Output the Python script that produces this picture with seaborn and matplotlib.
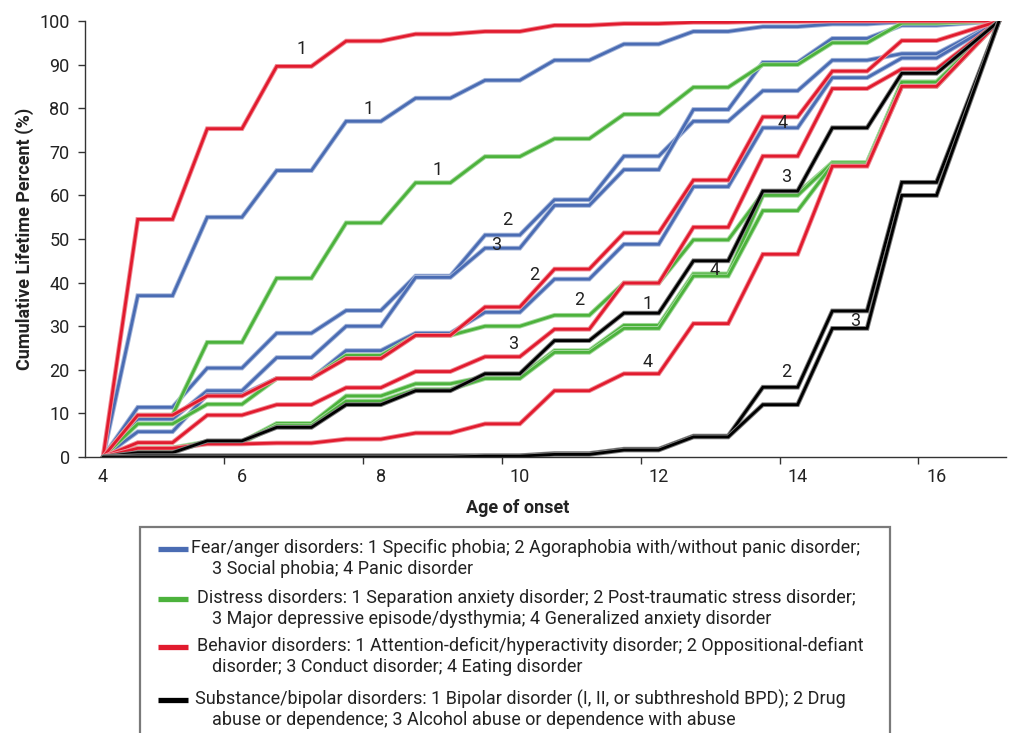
import matplotlib
matplotlib.use("Agg")
import matplotlib.pyplot as plt
import matplotlib.patheffects as pe
from matplotlib.lines import Line2D
from matplotlib.patches import Rectangle
import numpy as np
import pandas as pd
import seaborn as sns

# ages whose cumulative value is held on a flat step (a-0.5 .. a)
ages = list(range(5, 17))

# fear/anger disorders
specific_phobia = [37, 55, 65.7, 77, 82.3, 86.4, 91, 94.7, 97.6, 98.7, 99.3, 99.8]
agoraphobia = [11.4, 20.4, 28.4, 33.6, 41.5, 50.9, 59, 69, 77, 84, 91, 92.5]
social_phobia = [8.7, 15.2, 22.8, 30, 41.2, 47.9, 57.7, 65.9, 79.7, 90.5, 96, 99]
panic = [5.8, 14.3, 18, 24.4, 28.4, 33.2, 40.8, 48.8, 62, 75.5, 87, 91.5]

# distress disorders
separation = [9.6, 26.3, 41, 53.7, 62.9, 68.9, 73, 78.6, 84.8, 90, 95, 99.5]
ptsd = [7.6, 12.1, 18, 23.3, 27.9, 30, 32.5, 39.9, 49.8, 60.5, 67.5, 86]
depression = [2.1, 3.5, 7.7, 14, 16.8, 18.4, 24.4, 30.2, 42, 60, 67.5, 86]
gad = [1.5, 3.3, 7.2, 12.8, 15.5, 18, 24, 29.5, 41.5, 56.5, 67, 85]

# behavior disorders
adhd = [54.5, 75.3, 89.6, 95.4, 97, 97.6, 99, 99.4, 99.7, 99.9, 100, 100]
odd = [9.6, 14, 18, 22.6, 27.9, 34.4, 43.1, 51.4, 63.5, 78, 88.5, 95.5]
conduct = [3.3, 9.6, 12, 15.9, 19.6, 23, 29.3, 39.9, 52.7, 69, 84.5, 89]
eating = [2, 3, 3.2, 4.1, 5.5, 7.6, 15.2, 19.1, 30.6, 46.5, 66.7, 85]

# substance/bipolar disorders
bipolar = [1, 3.7, 6.8, 12, 15.2, 19.1, 26.7, 33, 45, 61, 75.5, 88]
drug = [0.3, 0.3, 0.3, 0.3, 0.3, 0.3, 0.8, 1.8, 4.8, 16, 33.5, 63]
alcohol = [0, 0, 0, 0, 0, 0.2, 0.6, 1.6, 4.6, 12, 29.5, 60]

BLUE = "#4a6cb3"
GREEN = "#4cb23c"
RED = "#e11b2e"
BLACK = "#000000"

lines = [
    ("specific_phobia", specific_phobia, BLUE),
    ("agoraphobia", agoraphobia, BLUE),
    ("social_phobia", social_phobia, BLUE),
    ("panic", panic, BLUE),
    ("separation", separation, GREEN),
    ("ptsd", ptsd, GREEN),
    ("depression", depression, GREEN),
    ("gad", gad, GREEN),
    ("adhd", adhd, RED),
    ("odd", odd, RED),
    ("conduct", conduct, RED),
    ("eating", eating, RED),
    ("bipolar", bipolar, BLACK),
    ("drug", drug, BLACK),
    ("alcohol", alcohol, BLACK),
]

# build long table: rise from a-1 to a-0.5, flat until a, final jump to 100
rows = []
for name, vals, _ in lines:
    rows.append((name, 4.0, 0.0))
    for a, v in zip(ages, vals):
        rows.append((name, a - 0.5, v))
        rows.append((name, float(a), v))
    rows.append((name, 16.9, 100.0))
df = pd.DataFrame(rows, columns=["disorder", "age", "pct"])
palette = {name: c for name, _, c in lines}

# number tags on the curves
tags = [
    ("1", 6.86, 93.5), ("1", 7.82, 79.8), ("1", 8.81, 65.9),
    ("2", 9.82, 54.3), ("3", 9.66, 48.6), ("2", 10.2, 41.7),
    ("2", 10.85, 35.9), ("1", 11.84, 35.2), ("3", 9.9, 26.0),
    ("4", 11.84, 21.7), ("4", 13.78, 76.7), ("3", 13.84, 64.3),
    ("4", 12.8, 42.9), ("2", 13.83, 19.4), ("3", 14.83, 31.3),
]

sns.set_theme(style="white")
plt.rcParams["font.family"] = ["Roboto", "DejaVu Sans"]

fig = plt.figure(figsize=(10.12, 7.33), dpi=100)
ax = fig.add_axes([85 / 1012, 1 - 457 / 733, 921 / 1012, 436 / 733])

sns.lineplot(
    data=df, x="age", y="pct", hue="disorder", palette=palette,
    estimator=None, sort=False, legend=False, linewidth=2.0, ax=ax,
)


def lighten(c, f=0.5):
    r, g, b = matplotlib.colors.to_rgb(c)
    return (r + (1 - r) * f, g + (1 - g) * f, b + (1 - b) * f)


for ln in ax.lines:
    ln.set_solid_joinstyle("miter")
    ln.set_path_effects([pe.Stroke(linewidth=3.4, foreground=lighten(ln.get_color())), pe.Normal()])

for t, x, y in tags:
    ax.text(x, y, t, ha="center", va="center", fontsize=13, color="#222222")

ax.set_xlim(3.74, 17.0)
ax.set_ylim(0, 100)
ax.set_yticks(np.arange(0, 101, 10))
ax.set_xticks(np.arange(4, 17, 2))
ax.set_xticks(np.arange(5.74, 16, 2), minor=True)
ax.tick_params(axis="x", which="major", length=0, pad=8, labelsize=13, colors="#222222")
ax.tick_params(axis="x", which="minor", bottom=True, length=5, width=1, direction="out", color="#333333")
ax.tick_params(axis="y", which="major", left=True, length=5, width=1, direction="out", pad=6,
               labelsize=13, colors="#222222")
ax.tick_params(axis="y", color="#333333")
for s in ["top", "right"]:
    ax.spines[s].set_visible(False)
for s in ["left", "bottom"]:
    ax.spines[s].set_color("#333333")
    ax.spines[s].set_linewidth(1.0)

ax.set_xlabel("Age of onset", fontsize=13, fontweight="bold", color="#222222", va="center")
ax.set_ylabel("Cumulative Lifetime Percent (%)", fontsize=13, fontweight="bold", color="#222222", va="center")
ax.xaxis.set_label_coords((518 - 85) / 921, (457 - 508) / 436)
ax.yaxis.set_label_coords((25 - 85) / 921, 0.5)

# legend box drawn below the axes
W, H = 1012, 733
fig.add_artist(Rectangle((140 / W, -0.02), (890 - 140) / W, 1 - 527 / H + 0.02,
                         transform=fig.transFigure, fill=False, ec="#7a7a7a", lw=1.6))

legend_rows = [
    (BLUE, 548, "Fear/anger disorders: 1 Specific phobia; 2 Agoraphobia with/without panic disorder;",
     "3 Social phobia; 4 Panic disorder", 191),
    (GREEN, 598, "Distress disorders: 1 Separation anxiety disorder; 2 Post-traumatic stress disorder;",
     "3 Major depressive episode/dysthymia; 4 Generalized anxiety disorder", 197),
    (RED, 646, "Behavior disorders: 1 Attention-deficit/hyperactivity disorder; 2 Oppositional-defiant",
     "disorder; 3 Conduct disorder; 4 Eating disorder", 197),
    (BLACK, 699, "Substance/bipolar disorders: 1 Bipolar disorder (I, II, or subthreshold BPD); 2 Drug",
     "abuse or dependence; 3 Alcohol abuse or dependence with abuse", 195),
]
for c, yp, l1, l2, xs in legend_rows:
    fig.add_artist(Line2D([158 / W, 188 / W], [1 - (yp + 1) / H] * 2, transform=fig.transFigure,
                          color=c, lw=3.8, solid_capstyle="butt"))
    fig.text(xs / W, 1 - yp / H, l1, ha="left", va="center", fontsize=13, color="#222222")
    fig.text(212 / W, 1 - (yp + 21) / H, l2, ha="left", va="center", fontsize=13, color="#222222")

fig.savefig("out.png", dpi=100)
